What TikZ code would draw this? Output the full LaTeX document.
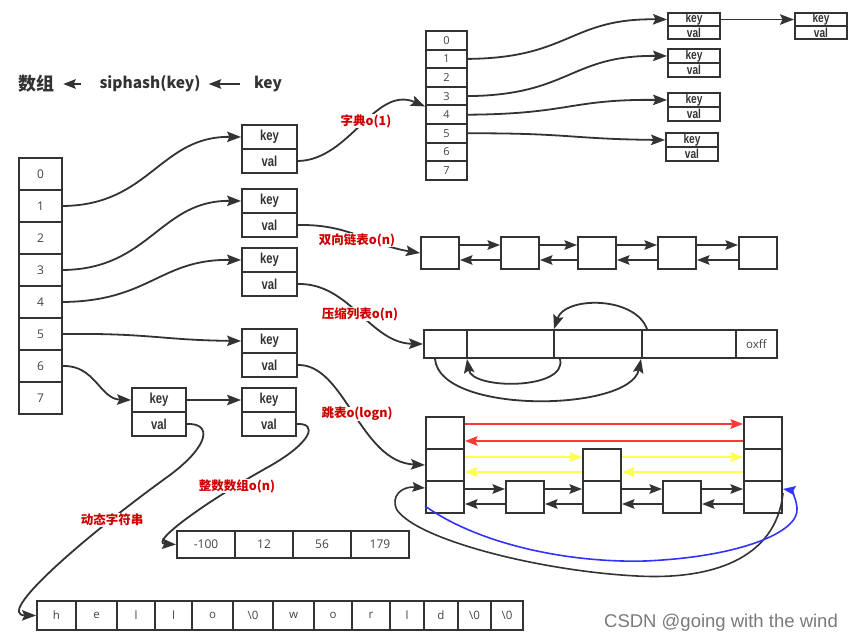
\documentclass[tikz,border=0pt]{standalone}
\usepackage{fontspec}
\usepackage{graphicx}
\setmainfont{Open Sans}
\newfontfamily\cjk{Noto Sans CJK SC}
\newfontfamily\kvfont{Liberation Sans}
\newfontfamily\wmfont{Liberation Sans}
\usetikzlibrary{arrows.meta}
\definecolor{dk}{HTML}{333333}
\definecolor{numgray}{HTML}{444444}
\definecolor{lblred}{HTML}{CC0000}
\definecolor{redarr}{HTML}{FF3838}
\definecolor{yelarr}{HTML}{FFFF4D}
\definecolor{bluarr}{HTML}{3333FF}
\definecolor{wm}{HTML}{7A7A7A}
\newcommand\kvtxt[1]{\scalebox{0.78}[1]{#1}}
\newcommand\kvpair[6]{%
  \node[kvc,#6,minimum width=#4,minimum height=#5] (#1k) at (#2,#3) {\kvtxt{key}};
  \node[kvc,#6,minimum width=#4,minimum height=#5] (#1v) at (#2,{#3+#5}) {\kvtxt{val}};}
\tikzset{
  box/.style={draw=dk, line width=2pt, inner sep=0pt, anchor=north west},
  numc/.style={box, font=\fontsize{12}{12}\selectfont, text=numgray},
  kvc/.style={box, font=\kvfont\bfseries\fontsize{14.5}{14.5}\selectfont, text=dk},
  kvs/.style={font=\kvfont\bfseries\fontsize{13}{13}\selectfont},
  kvb/.style={},
  conn/.style={color=dk, line width=1.8pt, -{Stealth[length=14pt,width=10.5pt,inset=2.5pt]}},
  conn2/.style={color=dk, line width=1.8pt, -{Stealth[length=12.5pt,width=9.5pt,inset=2pt]}},
  lbl/.style={fill=white, text=lblred, font=\cjk\bfseries\fontsize{12.5}{12.5}\selectfont, inner sep=0.5pt},
  hdr/.style={font=\cjk\bfseries\fontsize{15.5}{15.5}\selectfont, text=dk, inner sep=0pt},
}
\begin{document}
\begin{tikzpicture}[x=1pt,y=-1pt]
\path[use as bounding box, fill=white] (0,0) rectangle (855,643);

% header
\node[hdr, font=\cjk\bfseries\fontsize{18}{18}\selectfont] (h1) at (37,84) {数组};
\node[hdr] (h2) at (150,84) {siphash(key)};
\node[hdr] (h3) at (268,84) {key};
\draw[conn2, shorten <=14pt, shorten >=8pt] (h3.west) -- (h2.east);
\draw[conn2, shorten <=18pt, shorten >=8pt] (h2.west) -- (h1.east);

% main array
\foreach \i in {0,...,7}
  \node[numc, minimum width=43, minimum height=32] (m\i) at (18,{157+32*\i}) {\i};

% key/val boxes
\kvpair{A}{241}{124}{55}{24}{kvb}
\kvpair{B}{241}{188}{55}{24}{kvb}
\kvpair{C}{241}{247}{55}{24}{kvb}
\kvpair{D}{241}{328}{55}{24}{kvb}
\kvpair{E}{131}{387}{54}{24}{kvb}
\kvpair{F}{241}{387}{54}{24}{kvb}

% dict array
\foreach \i in {0,...,7}
  \node[numc, font=\fontsize{11}{11}\selectfont, minimum width=41, minimum height=18.6] (d\i) at (425,{30+18.6*\i}) {\i};

\kvpair{p1}{667}{12}{52}{13}{kvs}
\kvpair{q1}{794}{12}{52}{13}{kvs}
\kvpair{p2}{667}{48}{52}{14}{kvs}
\kvpair{p3}{667}{92}{52}{14}{kvs}
\kvpair{p4}{665}{132}{52}{14}{kvs}

% doubly linked list
\foreach \n/\x in {1/420,2/500,3/577,4/657,5/738}
  \node[box, minimum width=38, minimum height=32] (L\n) at (\x,236) {};

% ziplist
\foreach \n/\x/\w/\t in {1/423/43/{},2/466/87/{},3/553/88/{},4/641/94/{},5/735/41/oxff}
  \node[numc, font=\fontsize{11.5}{11.5}\selectfont, minimum width=\w, minimum height=28] (Z\n) at (\x,329) {\t};

% skip list
\foreach \n/\y in {1/416,2/448,3/480} {
  \node[box, minimum width=38, minimum height=32] (SL\n) at (425,\y) {};
  \node[box, minimum width=38, minimum height=32] (SR\n) at (743,\y) {};
}
\node[box, minimum width=38, minimum height=32] (SM2) at (582,448) {};
\node[box, minimum width=38, minimum height=32] (SM3) at (582,480) {};
\node[box, minimum width=38, minimum height=32] (Sa) at (505,480) {};
\node[box, minimum width=38, minimum height=32] (Sb) at (662,480) {};

% int array
\foreach \n/\x/\t in {1/176/-100,2/234/12,3/292/56,4/350/179}
  \node[numc, minimum width=58, minimum height=27] (I\n) at (\x,530) {\t};

% string array
\foreach \n/\x/\w/\t in {1/36/39/h,2/75/41/e,3/116/38/l,4/154/37/l,5/191/41/o,6/232/40/{\textbackslash0},7/272/41/w,8/313/38/o,9/351/38/r,10/389/34/l,11/423/34/d,12/457/33/{\textbackslash0},13/490/32/{\textbackslash0}}
  \node[numc, font=\fontsize{11.5}{11.5}\selectfont, minimum width=\w, minimum height=29] (C\n) at (\x,600) {\t};

% main array -> key/val
\draw[conn] (m1.east) .. controls (150,205) and (160,136) .. (Ak.west);
\draw[conn] (m3.east) .. controls (150,269) and (160,200) .. (Bk.west);
\draw[conn] (m4.east) .. controls (150,301) and (160,259) .. (Ck.west);
\draw[conn] (m5.east) .. controls (150,333) and (160,340) .. (Dk.west);
\draw[conn] (m6.east) .. controls (95,365) and (100,399) .. (Ek.west);
\draw[conn] (Ek.east) -- (Fk.west);

% dict
\draw[conn] (Av.east) .. controls (350,160) and (375,85) .. (d3.south west);
\draw[conn] (d1.east) .. controls (570,58) and (570,18) .. (p1k.west);
\draw[conn] (p1k.east) -- (q1k.west);
\draw[conn] (d3.east) .. controls (570,95) and (570,55) .. (p2k.west);
\draw[conn] (d4.east) .. controls (570,114) and (570,99) .. (p3k.west);
\draw[conn] (d5.east) .. controls (570,133) and (570,139) .. (p4k.west);

% linked list
\draw[conn] (Bv.east) .. controls (350,224) and (370,245) .. (L1.west);
\foreach \a/\b in {1/2,2/3,3/4,4/5} {
  \draw[conn2] ([yshift=8pt]L\a.east) -- ([yshift=8pt]L\b.west);
  \draw[conn2] ([yshift=-7pt]L\b.west) -- ([yshift=-7pt]L\a.east);
}

% ziplist
\draw[conn] (Cv.east) .. controls (350,283) and (370,343) .. (Z1.west);
\draw[conn] ([xshift=6pt]Z4.north west) .. controls (635,296) and (565,296) .. ([xshift=1pt]Z3.north west);
\draw[conn] ([xshift=7pt]Z3.south west) .. controls (568,390) and (472,390) .. ([xshift=1pt]Z2.south west);
\draw[conn] ([xshift=12pt]Z1.south west) .. controls (440,415) and (630,412) .. (Z4.south west);

% skip list
\draw[conn] (Dv.east) .. controls (345,364) and (360,462) .. (SL2.west);
\draw[conn2, color=redarr] ([yshift=9pt]SL1.east) -- ([yshift=9pt]SR1.west);
\draw[conn2, color=redarr] ([yshift=-8pt]SR1.west) -- ([yshift=-8pt]SL1.east);
\draw[conn2, color=yelarr] ([yshift=8pt]SL2.east) -- ([yshift=8pt]SM2.west);
\draw[conn2, color=yelarr] ([yshift=8pt]SM2.east) -- ([yshift=8pt]SR2.west);
\draw[conn2, color=yelarr] ([yshift=-7pt]SM2.west) -- ([yshift=-7pt]SL2.east);
\draw[conn2, color=yelarr] ([yshift=-7pt]SR2.west) -- ([yshift=-7pt]SM2.east);
\foreach \a/\b in {SL3/Sa,Sa/SM3,SM3/Sb,Sb/SR3} {
  \draw[conn2] ([yshift=8pt]\a.east) -- ([yshift=8pt]\b.west);
  \draw[conn2] ([yshift=-7pt]\b.west) -- ([yshift=-7pt]\a.east);
}
\draw[conn2, line width=1.6pt] ([yshift=4pt]SR3.east) .. controls (776,560) and (710,580) .. (637,576) .. controls (540,571) and (418,540) .. (397,510) .. controls (390,496) and (402,486) .. ([yshift=9pt]SL3.west);
\draw[conn2, line width=1.6pt, color=bluarr] ([yshift=-9pt]SL3.west) .. controls (480,545) and (570,563) .. (645,561) .. controls (740,557) and (800,532) .. (797,508) .. controls (796,496) and (790,490) .. ([yshift=8pt]SR3.east);

% int array
\draw[conn] (Fv.east) .. controls (318,423) and (312,442) .. (270,466) .. controls (200,505) and (150,543) .. (I1.west);

% string
\draw[conn] (Ev.east) .. controls (212,423) and (210,445) .. (170,475) .. controls (80,540) and (-5,615) .. (C1.west);

% labels
\node[lbl] (t1) at (366,121) {字典o(1)};
\node[lbl] (t2) at (357,240) {双向链表o(n)};
\node[lbl] (t3) at (360,314) {压缩列表o(n)};
\node[lbl] (t4) at (357,414) {跳表o(logn)};
\node[lbl] (t5) at (237,486) {整数数组o(n)};
\node[lbl] (t6) at (112,520) {动态字符串};

% watermark
\node[font=\wmfont\fontsize{18.5}{18.5}\selectfont, text=wm, inner sep=0pt] (wmk) at (721,623) {CSDN @going with the wind};
\end{tikzpicture}
\end{document}
